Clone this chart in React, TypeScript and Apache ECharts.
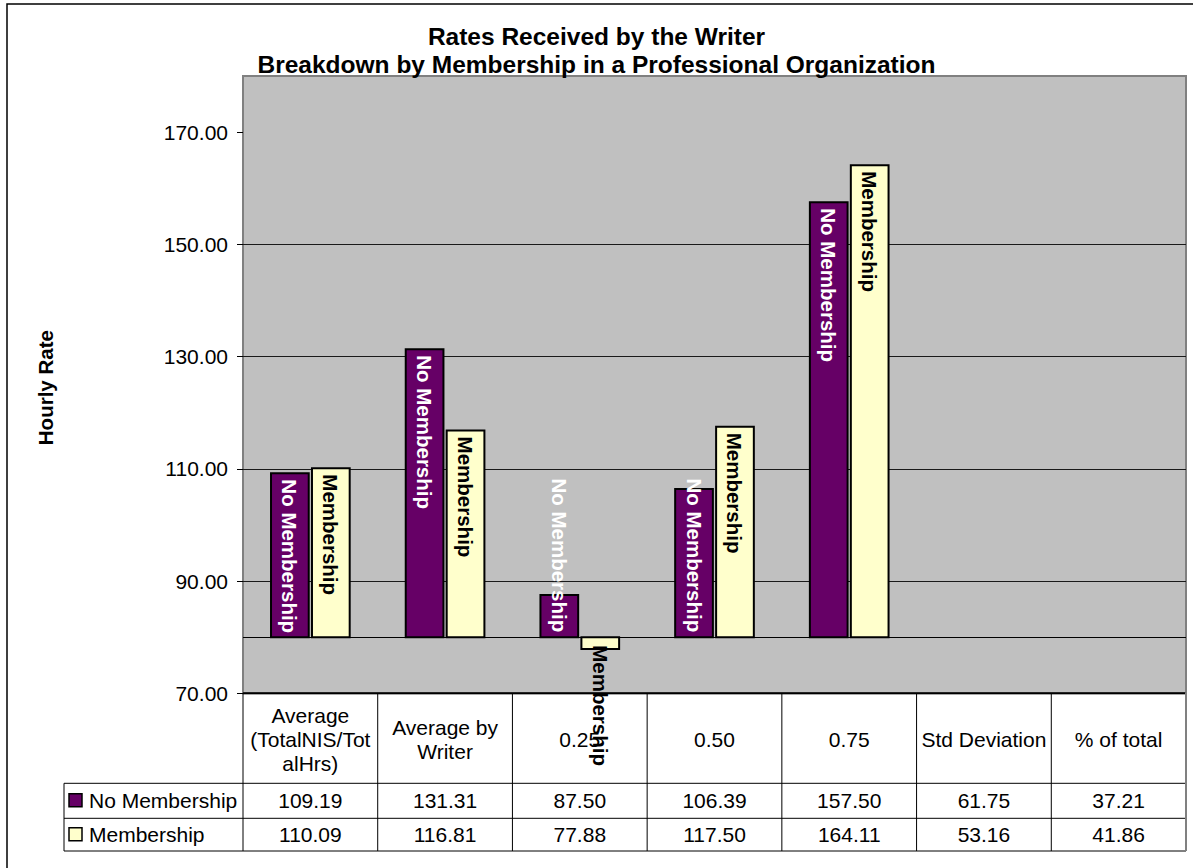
import React, { useEffect, useRef } from "react";
import * as echarts from "echarts";

// ---- data ----
const categories = [
  "Average (TotalNIS/TotalHrs)",
  "Average by Writer",
  "0.25",
  "0.50",
  "0.75",
  "Std Deviation",
  "% of total",
];
const headerLabels = [
  "Average\n(TotalNIS/Tot\nalHrs)",
  "Average by\nWriter",
  "0.25",
  "0.50",
  "0.75",
  "Std Deviation",
  "% of total",
];
const seriesNames = ["No Membership", "Membership"];
const noMembership = [109.19, 131.31, 87.5, 106.39, 157.5, 61.75, 37.21];
const membership = [110.09, 116.81, 77.88, 117.5, 164.11, 53.16, 41.86];
const yTicks = [70, 90, 110, 130, 150, 170];
const barBase = 80;
const yMin = 70;
const yMax = 180;

const titleText =
  "Rates Received by the Writer\nBreakdown by Membership in a Professional Organization";
const yAxisTitle = "Hourly Rate";

// ---- styling / layout ----
const FONT = '"Liberation Sans", Arial, Helvetica, sans-serif';
const FS = 21;
const W = 1193;
const H = 868;
const PLOT_L = 243;
const PLOT_R = 1186;
const PLOT_T = 76;
const PLOT_B = 693.3;
const ROW1_T = 783.3;
const ROW2_T = 818.3;
const TABLE_B = 851;
const LEG_L = 64;
const COLORS = ["#660066", "#FFFFCC"];
const LABEL_COLORS = ["#FFFFFF", "#000000"];

function makeRenderItem(idx: number) {
  return (params: any, api: any) => {
    const ci = api.value(0);
    const v = api.value(1);
    if (v < yMin) return null;
    const pV = api.coord([ci, v]);
    const pB = api.coord([ci, barBase]);
    const cx = pV[0];
    const cw = api.size([1, 0])[0];
    const bw = cw * 0.28;
    const gap = cw * 0.024;
    const x0 = idx === 0 ? cx - gap / 2 - bw : cx + gap / 2;
    const top = Math.min(pV[1], pB[1]);
    const h = Math.abs(pB[1] - pV[1]);
    let ly: number;
    let align: string;
    if (v >= barBase) {
      if (h >= 155) {
        ly = top + 6;
        align = "left";
      } else {
        ly = pB[1] - 5;
        align = "right";
      }
    } else {
      ly = pB[1] + 8;
      align = "left";
    }
    return {
      type: "group",
      children: [
        {
          type: "rect",
          shape: { x: x0, y: top, width: bw, height: h },
          style: { fill: COLORS[idx], stroke: "#000", lineWidth: 2 },
        },
        {
          type: "text",
          x: x0 + bw / 2,
          y: ly,
          rotation: -Math.PI / 2,
          z2: 10,
          style: {
            text: seriesNames[idx],
            fill: LABEL_COLORS[idx],
            fontSize: 20.5,
            fontWeight: "bold",
            fontFamily: FONT,
            align: align,
            verticalAlign: "middle",
            textAlign: align,
            textVerticalAlign: "middle",
          },
        },
      ],
    };
  };
}

function buildGraphics() {
  const els: any[] = [];
  const n = categories.length;
  const colW = (PLOT_R - PLOT_L) / n;
  const line = (x1: number, y1: number, x2: number, y2: number, stroke = "#000", lw = 1) => ({
    type: "line",
    shape: { x1, y1, x2, y2 },
    style: { stroke, lineWidth: lw },
    silent: true,
    z: 5,
  });
  const txt = (x: number, y: number, text: string, extra: any = {}) => ({
    type: "text",
    x,
    y,
    silent: true,
    z: 6,
    style: {
      text,
      fill: "#000",
      fontSize: FS,
      fontFamily: FONT,
      align: "center",
      verticalAlign: "middle",
      textAlign: "center",
      textVerticalAlign: "middle",
      lineHeight: 24,
      ...extra,
    },
  });

  // outer border (extends beyond page right/bottom)
  els.push({
    type: "rect",
    shape: { x: 7, y: 4, width: 1300, height: 1000 },
    style: { fill: "none", stroke: "#000", lineWidth: 1.5 },
    silent: true,
    z: 0,
  });

  // title
  els.push({
    type: "text",
    x: W / 2,
    y: 22.5,
    silent: true,
    z: 6,
    style: {
      text: titleText,
      fill: "#000",
      fontSize: 24.5,
      fontWeight: "bold",
      fontFamily: FONT,
      align: "center",
      verticalAlign: "top",
      textAlign: "center",
      textVerticalAlign: "top",
      lineHeight: 28,
    },
  });

  // y-axis title
  els.push({
    type: "text",
    x: 45,
    y: (PLOT_T + PLOT_B) / 2 + 3,
    rotation: Math.PI / 2,
    silent: true,
    z: 6,
    style: {
      text: yAxisTitle,
      fill: "#000",
      fontSize: 20.5,
      fontWeight: "bold",
      fontFamily: FONT,
      align: "center",
      verticalAlign: "middle",
      textAlign: "center",
      textVerticalAlign: "middle",
    },
  });

  // table lines
  els.push(line(PLOT_L, PLOT_B, PLOT_R, PLOT_B, "#000", 2));
  els.push(line(LEG_L, ROW1_T, PLOT_R, ROW1_T));
  els.push(line(LEG_L, ROW2_T, PLOT_R, ROW2_T));
  els.push(line(LEG_L, TABLE_B, PLOT_R, TABLE_B));
  els.push(line(LEG_L, ROW1_T, LEG_L, TABLE_B));
  els.push(line(PLOT_L, PLOT_B, PLOT_L, TABLE_B));
  for (let k = 1; k < n; k++) {
    const x = PLOT_L + k * colW;
    els.push(line(x, PLOT_B, x, TABLE_B));
  }
  els.push(line(PLOT_R, PLOT_B - 1, PLOT_R, TABLE_B, "#808080", 2));

  // header labels
  const headerY = (PLOT_B + ROW1_T) / 2 + 1;
  headerLabels.forEach((h, i) => {
    els.push(txt(PLOT_L + (i + 0.5) * colW, headerY, h));
  });

  // rows
  const rows = [noMembership, membership];
  const rowTops = [ROW1_T, ROW2_T];
  const rowBots = [ROW2_T, TABLE_B];
  rows.forEach((vals, r) => {
    const cy = (rowTops[r] + rowBots[r]) / 2;
    els.push({
      type: "rect",
      shape: { x: 69, y: cy - 7, width: 13, height: 13 },
      style: { fill: COLORS[r], stroke: "#000", lineWidth: 1.5 },
      silent: true,
      z: 6,
    });
    els.push(
      txt(89, cy, seriesNames[r], { align: "left", textAlign: "left" })
    );
    vals.forEach((v, i) => {
      els.push(txt(PLOT_L + (i + 0.5) * colW, cy, v.toFixed(2)));
    });
  });

  return els;
}

export default function App() {
  const ref = useRef<HTMLDivElement>(null);
  useEffect(() => {
    if (!ref.current) return;
    const chart = echarts.init(ref.current, null, { renderer: "svg" });
    const option: any = {
      animation: false,
      backgroundColor: "#FFFFFF",
      grid: {
        show: true,
        left: PLOT_L,
        right: W - PLOT_R,
        top: PLOT_T,
        bottom: H - PLOT_B,
        backgroundColor: "#C0C0C0",
        borderColor: "#808080",
        borderWidth: 2,
      },
      xAxis: {
        type: "category",
        data: categories,
        axisLine: { show: false },
        axisTick: { show: false },
        axisLabel: { show: false },
        splitLine: { show: false },
      },
      yAxis: {
        type: "value",
        min: yMin,
        max: yMax,
        interval: 20,
        axisLine: { show: false },
        axisTick: {
          show: true,
          length: 6,
          customValues: yTicks,
          lineStyle: { color: "#000", width: 1 },
        },
        axisLabel: {
          customValues: yTicks,
          margin: 15,
          color: "#000",
          fontSize: FS,
          fontFamily: FONT,
          formatter: (v: number) => v.toFixed(2),
        },
        splitLine: {
          show: true,
          showMaxLine: false,
          lineStyle: { color: "#1a1a1a", width: 1 },
        },
      },
      series: [
        {
          type: "custom",
          name: seriesNames[0],
          renderItem: makeRenderItem(0),
          data: noMembership.map((v, i) => [i, v]),
          encode: { x: 0, y: 1 },
          markLine: {
            silent: true,
            symbol: "none",
            label: { show: false },
            lineStyle: { color: "#000", width: 1, type: "solid" },
            data: [{ yAxis: barBase }],
          },
          z: 2,
        },
        {
          type: "custom",
          name: seriesNames[1],
          renderItem: makeRenderItem(1),
          data: membership.map((v, i) => [i, v]),
          encode: { x: 0, y: 1 },
          z: 2,
        },
      ],
      graphic: buildGraphics(),
    };
    chart.setOption(option);
    return () => chart.dispose();
  }, []);
  return (
    <div
      ref={ref}
      style={{ position: "fixed", left: 0, top: 0, width: W, height: H, background: "#fff" }}
    />
  );
}
